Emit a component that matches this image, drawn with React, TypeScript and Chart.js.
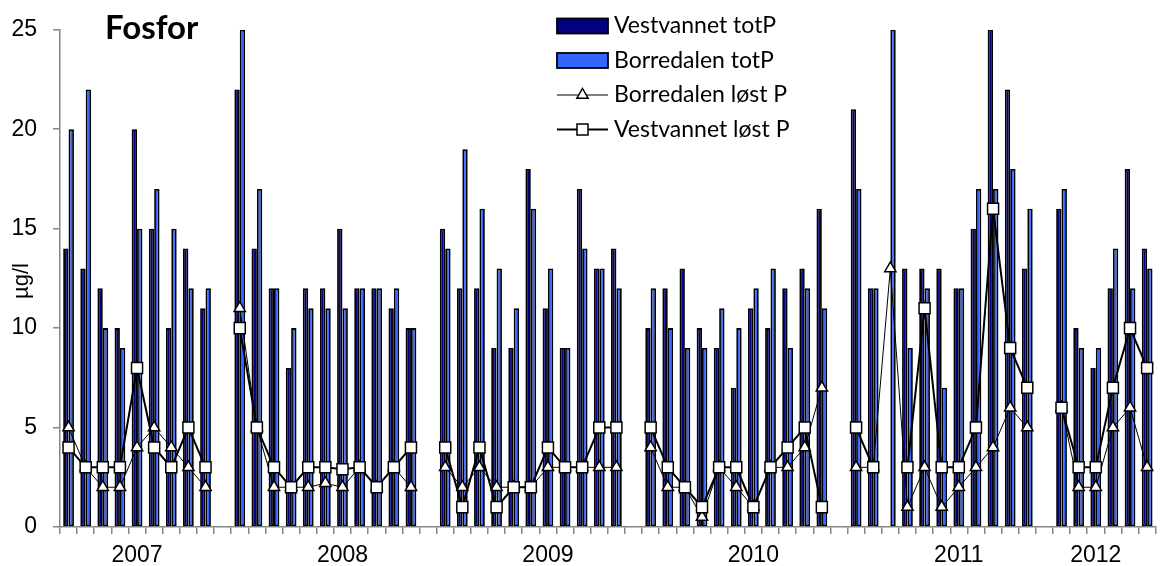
import React, { useEffect, useRef } from "react";
import Chart from "chart.js/auto";

// Category axis: one slot per sampling date, blank slot between years
const xLabels: string[] = [
  "", "", "", "", "2007", "", "", "", "", "",
  "", "", "", "", "", "", "2008", "", "", "", "", "",
  "", "", "", "", "", "", "2009", "", "", "", "", "",
  "", "", "", "", "", "", "2010", "", "", "", "", "",
  "", "", "", "", "", "", "2011", "", "", "", "", "",
  "", "", "2012", "", "", "",
];

const vestvannetTotP: (number | null)[] = [
  14, 13, 12, 10, 20, 15, 10, 14, 11, null,
  22, 14, 12, 8, 12, 12, 15, 12, 12, 11, 10, null,
  15, 12, 12, 9, 9, 18, 11, 9, 17, 13, 14, null,
  10, 12, 13, 10, 9, 7, 11, 10, 12, 13, 16, null,
  21, 12, null, 13, 13, 13, 12, 15, 25, 22, 13, null,
  16, 10, 8, 12, 18, 14,
];

const borredalenTotP: (number | null)[] = [
  20, 22, 10, 9, 15, 17, 15, 12, 12, null,
  25, 17, 12, 10, 11, 11, 11, 12, 12, 12, 10, null,
  14, 19, 16, 13, 11, 16, 13, 9, 14, 13, 12, null,
  12, 10, 9, 9, 11, 10, 12, 13, 9, 12, 11, null,
  17, 12, 25, 9, 12, 7, 12, 17, 17, 18, 16, null,
  17, 9, 9, 14, 12, 13,
];

const borredalenLostP: (number | null)[] = [
  5, 3, 2, 2, 4, 5, 4, 3, 2, null,
  11, 5, 2, 2, 2, 2.2, 2, 3, 2, 3, 2, null,
  3, 2, 3, 2, 2, 2, 3, 3, 3, 3, 3, null,
  4, 2, 2, 0.5, 3, 2, 1, 3, 3, 4, 7, null,
  3, 3, 13, 1, 3, 1, 2, 3, 4, 6, 5, null,
  6, 2, 2, 5, 6, 3,
];

const vestvannetLostP: (number | null)[] = [
  4, 3, 3, 3, 8, 4, 3, 5, 3, null,
  10, 5, 3, 2, 3, 3, 2.9, 3, 2, 3, 4, null,
  4, 1, 4, 1, 2, 2, 4, 3, 3, 5, 5, null,
  5, 3, 2, 1, 3, 3, 1, 3, 4, 5, 1, null,
  5, 3, null, 3, 11, 3, 3, 5, 16, 9, 7, null,
  6, 3, 3, 7, 10, 8,
];

const seriesNames = ["Vestvannet totP", "Borredalen totP", "Borredalen løst P", "Vestvannet løst P"];
const NAVY = "#000080";
const BLUE = "#3366ff";
const AXIS_GREY = "#868686";

const decorPlugin = {
  id: "decor",
  afterDraw(chart: any) {
    const ctx = chart.ctx as CanvasRenderingContext2D;
    ctx.save();
    // Title inside plot
    ctx.fillStyle = "#000";
    ctx.font = "bold 33px Lato";
    ctx.textAlign = "left";
    ctx.textBaseline = "alphabetic";
    ctx.fillText("Fosfor", 105, 39);

    // Y axis title
    ctx.save();
    ctx.translate(22, 281);
    ctx.rotate(-Math.PI / 2);
    ctx.font = "22px 'Liberation Sans'";
    ctx.textAlign = "center";
    ctx.textBaseline = "middle";
    ctx.fillText("µg/l", 0, 0);
    ctx.restore();

    // Legend
    const lx = 557, lw = 51, tx = 614;
    const rows = [26, 60.5, 95, 129.5];
    ctx.font = "23px Lato";
    ctx.textAlign = "left";
    ctx.textBaseline = "middle";
    [NAVY, BLUE].forEach((c, i) => {
      const y = rows[i];
      ctx.fillStyle = c;
      ctx.fillRect(lx, y - 7.5, lw, 15);
      ctx.strokeStyle = "#000";
      ctx.lineWidth = 1.8;
      ctx.strokeRect(lx, y - 7.5, lw, 15);
    });
    {
      const y = rows[2];
      ctx.strokeStyle = "#000";
      ctx.lineWidth = 1;
      ctx.beginPath();
      ctx.moveTo(lx, y);
      ctx.lineTo(lx + lw, y);
      ctx.stroke();
      const cx = lx + lw / 2, r = 6.5;
      ctx.beginPath();
      ctx.moveTo(cx, y - r);
      ctx.lineTo(cx + r * 0.866, y + r / 2);
      ctx.lineTo(cx - r * 0.866, y + r / 2);
      ctx.closePath();
      ctx.fillStyle = "#fff";
      ctx.fill();
      ctx.lineWidth = 1.5;
      ctx.stroke();
    }
    {
      const y = rows[3];
      ctx.strokeStyle = "#000";
      ctx.lineWidth = 2;
      ctx.beginPath();
      ctx.moveTo(lx, y);
      ctx.lineTo(lx + lw, y);
      ctx.stroke();
      const cx = lx + lw / 2, s = 5.5;
      ctx.fillStyle = "#fff";
      ctx.fillRect(cx - s, y - s, 2 * s, 2 * s);
      ctx.lineWidth = 1.5;
      ctx.strokeRect(cx - s, y - s, 2 * s, 2 * s);
    }
    ctx.fillStyle = "#000";
    seriesNames.forEach((n, i) => ctx.fillText(n, tx, rows[i]));
    ctx.restore();
  },
};

export default function App() {
  const ref = useRef<HTMLCanvasElement>(null);
  useEffect(() => {
    document.body.style.margin = "0";
    const canvas = ref.current!;
    const chart = new Chart(canvas, {
      type: "bar",
      data: {
        labels: xLabels,
        datasets: [
          {
            type: "bar",
            label: seriesNames[0],
            data: vestvannetTotP,
            backgroundColor: NAVY,
            borderColor: "#000",
            borderWidth: 1.8,
            borderSkipped: false,
            categoryPercentage: 0.63,
            barPercentage: 1,
            order: 2,
          },
          {
            type: "bar",
            label: seriesNames[1],
            data: borredalenTotP,
            backgroundColor: BLUE,
            borderColor: "#000",
            borderWidth: 1.8,
            borderSkipped: false,
            categoryPercentage: 0.63,
            barPercentage: 1,
            order: 3,
          },
          {
            type: "line",
            label: seriesNames[2],
            data: borredalenLostP,
            borderColor: "#000",
            borderWidth: 1,
            pointStyle: "triangle",
            pointRadius: 6.5,
            pointBackgroundColor: "#fff",
            pointBorderColor: "#000",
            pointBorderWidth: 1.5,
            spanGaps: false,
            tension: 0,
            order: 1,
          },
          {
            type: "line",
            label: seriesNames[3],
            data: vestvannetLostP,
            borderColor: "#000",
            borderWidth: 2,
            pointStyle: "rect",
            pointRadius: 7.8,
            pointBackgroundColor: "#fff",
            pointBorderColor: "#000",
            pointBorderWidth: 1.5,
            spanGaps: false,
            tension: 0,
            order: 0,
          },
        ] as any,
      },
      options: {
        animation: false,
        responsive: true,
        maintainAspectRatio: false,
        layout: { padding: { top: 28, right: 0, left: 0, bottom: 0 } },
        plugins: {
          legend: { display: false },
          tooltip: { enabled: false },
          title: { display: false },
        },
        scales: {
          x: {
            type: "category",
            offset: true,
            grid: {
              display: true,
              offset: true,
              drawOnChartArea: false,
              drawTicks: true,
              tickLength: 7,
              color: AXIS_GREY,
              lineWidth: 1.5,
            },
            border: { display: true, color: AXIS_GREY, width: 1.5 },
            ticks: {
              autoSkip: false,
              maxRotation: 0,
              minRotation: 0,
              padding: 8,
              color: "#000",
              font: { family: "'Liberation Sans'", size: 23 },
            },
            afterFit(scale: any) {
              scale.height = 39;
            },
          },
          y: {
            min: 0,
            max: 25,
            ticks: {
              stepSize: 5,
              padding: 16,
              color: "#000",
              font: { family: "'Liberation Sans'", size: 23 },
            },
            grid: {
              drawOnChartArea: false,
              drawTicks: true,
              tickLength: 7,
              color: AXIS_GREY,
              lineWidth: 1.5,
            },
            border: { display: true, color: AXIS_GREY, width: 1.5 },
            afterFit(scale: any) {
              scale.width = 60;
            },
          },
        },
      } as any,
      plugins: [decorPlugin],
    });
    return () => chart.destroy();
  }, []);
  return (
    <div style={{ width: 1165, height: 566, position: "relative" }}>
      <canvas ref={ref} />
    </div>
  );
}
